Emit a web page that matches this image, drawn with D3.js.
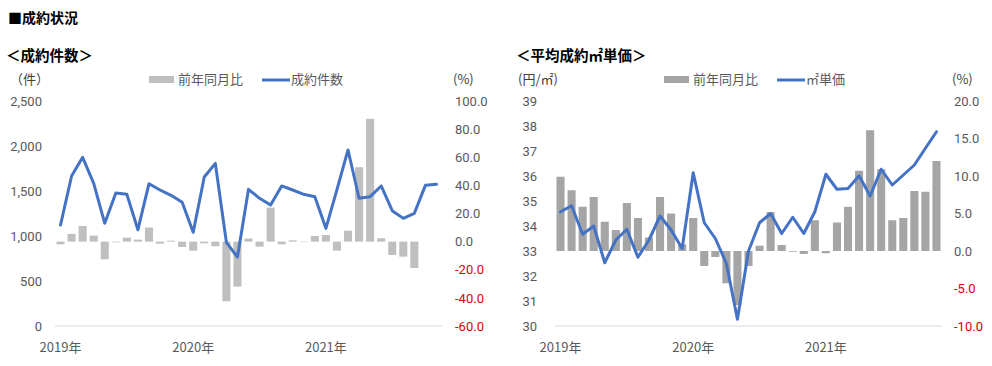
<!DOCTYPE html>
<html><head><meta charset="utf-8">
<script src="https://cdn.jsdelivr.net/npm/d3@7"></script>
<style>
html,body{margin:0;padding:0;background:#fff;}
svg{display:block;}
</style>
</head><body>
<svg id="c" width="992" height="366"></svg>
<script>
const months = ["2019/1","2019/2","2019/3","2019/4","2019/5","2019/6","2019/7","2019/8","2019/9","2019/10","2019/11","2019/12",
"2020/1","2020/2","2020/3","2020/4","2020/5","2020/6","2020/7","2020/8","2020/9","2020/10","2020/11","2020/12",
"2021/1","2021/2","2021/3","2021/4","2021/5","2021/6","2021/7","2021/8","2021/9","2021/10","2021/11"];
const yearTicks = ["2019/1","2020/1","2021/1"];
const yearLabels = ["2019年","2020年","2021年"];

const countValues = [1122,1667,1874,1585,1141,1478,1463,1070,1581,1511,1452,1374,1041,1656,1807,930,765,1519,1419,1344,1556,1511,1463,1437,1085,1515,1956,1419,1437,1556,1281,1196,1252,1563,1574];
const countYoY = [-1.9,5.5,11.1,4.3,-12.6,-0.5,2.8,1.4,10.0,-1.4,0.7,-3.8,-6.4,-1.2,-3.3,-42.4,-32.0,2.2,-3.6,24.2,-1.9,0.9,-0.3,4.0,4.7,-6.4,7.8,52.9,87.3,2.4,-9.5,-10.7,-18.7,null,null];
const countLeftTicks = [0,500,1000,1500,2000,2500];
const countRightTicks = [-60,-40,-20,0,20,40,60,80,100];

const priceValues = [34.57,34.81,33.67,34.0,32.53,33.44,33.87,32.75,33.44,34.4,33.84,33.1,36.13,34.13,33.5,32.5,30.27,33.0,34.13,34.5,33.7,34.35,33.7,34.57,36.07,35.47,35.5,36.01,35.2,36.27,35.64,36.04,36.44,37.11,37.77];
const priceYoY = [9.9,8.1,5.9,7.2,3.9,2.8,6.4,4.4,1.8,7.2,5.0,0.9,4.4,-2.0,-0.8,-4.3,-7.2,-2.0,0.7,5.2,0.8,-0.1,-0.4,4.1,-0.3,3.8,5.9,10.7,16.1,10.9,4.1,4.4,8.0,7.9,12.0];
const priceLeftTicks = [30,31,32,33,34,35,36,37,38,39];
const priceRightTicks = [-10,-5,0,5,10,15,20];

const svg = d3.select("#c");
const JP = "'Noto Sans CJK JP','Noto Sans',sans-serif";
const NUM = "Roboto,'Noto Sans',sans-serif";
const GREY = "#595959";

svg.append("text").attr("x",8).attr("y",23).attr("font-family",JP).attr("font-weight","bold")
  .attr("font-size",14).attr("fill","#000").text("■成約状況");

function drawChart(o){
  const g = svg.append("g");
  g.append("text").attr("x",o.titleX).attr("y",61).attr("font-family",JP).attr("font-weight","bold")
    .attr("font-size",14.5).attr("fill","#000").text(o.title);
  const x = d3.scaleBand().domain(months).range([o.x0,o.x1]).paddingInner(0.27).paddingOuter(0.135);
  const yL = d3.scaleLinear().domain(o.leftDomain).range([326,101]);
  const yR = d3.scaleLinear().domain(o.rightDomain).range([326,101]);
  const bw = x.bandwidth();
  // bars
  g.selectAll("rect.bar").data(months.map((m,i)=>({m,v:o.yoy[i]})).filter(d=>d.v!=null))
    .enter().append("rect")
    .attr("x",d=>x(d.m)).attr("width",bw)
    .attr("y",d=>Math.min(yR(d.v),yR(0))).attr("height",d=>Math.abs(yR(d.v)-yR(0)))
    .attr("fill",o.barColor);
  // baseline
  g.append("line").attr("x1",o.x0).attr("x2",o.x1).attr("y1",326).attr("y2",326)
    .attr("stroke","#d9d9d9").attr("stroke-width",1);
  // line
  const line = d3.line().x((d,i)=>x(months[i])+bw/2).y(d=>yL(d));
  g.append("path").datum(o.values).attr("d",line).attr("fill","none")
    .attr("stroke","#4472c4").attr("stroke-width",3).attr("stroke-linejoin","round").attr("stroke-linecap","round");
  // left axis
  const aL = g.append("g").attr("transform",`translate(${o.leftLabelX},0)`)
    .call(d3.axisLeft(yL).tickValues(o.leftTicks).tickSize(0).tickPadding(0).tickFormat(o.leftFmt));
  aL.select(".domain").remove();
  aL.selectAll("text").attr("font-family",NUM).attr("font-size",13).attr("fill",GREY);
  // right axis
  const aR = g.append("g").attr("transform",`translate(${o.rightLabelX},0)`)
    .call(d3.axisRight(yR).tickValues(o.rightTicks).tickSize(0).tickPadding(0).tickFormat(d3.format(".1f")));
  aR.select(".domain").remove();
  aR.selectAll("text").attr("font-family",NUM).attr("font-size",13)
    .attr("fill",d=>d<0?"#e00000":GREY).text(d=>d3.format(".1f")(d).replace("−","-"));
  // x axis years
  const aX = g.append("g").attr("transform","translate(0,340)")
    .call(d3.axisBottom(x).tickValues(yearTicks).tickSize(0).tickPadding(0).tickFormat((d,i)=>yearLabels[yearTicks.indexOf(d)]));
  aX.select(".domain").remove();
  aX.selectAll("text").attr("font-family",JP).attr("font-size",13).attr("fill",GREY).attr("dy","0.9em");
  // unit labels
  g.append("text").attr("x",o.unitLX).attr("y",84).attr("font-family",JP).attr("font-size",13).attr("fill","#404040").text(o.unitL);
  g.append("text").attr("x",o.rightLabelX-2).attr("y",84).attr("font-family",JP).attr("font-size",13).attr("fill","#404040").text("(%)");
  // legend
  g.append("rect").attr("x",o.legX).attr("y",76).attr("width",25).attr("height",7).attr("fill",o.barColor);
  g.append("text").attr("x",o.legX+29).attr("y",84).attr("font-family",JP).attr("font-size",13).attr("fill",GREY).text("前年同月比");
  g.append("line").attr("x1",o.legX+113).attr("x2",o.legX+141).attr("y1",80).attr("y2",80).attr("stroke","#4472c4").attr("stroke-width",3);
  g.append("text").attr("x",o.legX+142).attr("y",84).attr("font-family",JP).attr("font-size",13).attr("fill",GREY).text(o.lineName);
}

drawChart({title:"＜成約件数＞", titleX:6, x0:55, x1:442, leftDomain:[0,2500], rightDomain:[-60,100],
  values:countValues, yoy:countYoY, barColor:"#bfbfbf", leftTicks:countLeftTicks, rightTicks:countRightTicks,
  leftFmt:d3.format(","), leftLabelX:42, rightLabelX:455, unitL:"（件）", unitLX:10, legX:149, lineName:"成約件数"});

drawChart({title:"＜平均成約㎡単価＞", titleX:516, x0:555, x1:942, leftDomain:[30,39], rightDomain:[-10,20],
  values:priceValues, yoy:priceYoY, barColor:"#a5a5a5", leftTicks:priceLeftTicks, rightTicks:priceRightTicks,
  leftFmt:d3.format("d"), leftLabelX:537, rightLabelX:954, unitL:"(円/㎡)", unitLX:518, legX:664, lineName:"㎡単価"});
</script>
</body></html>
